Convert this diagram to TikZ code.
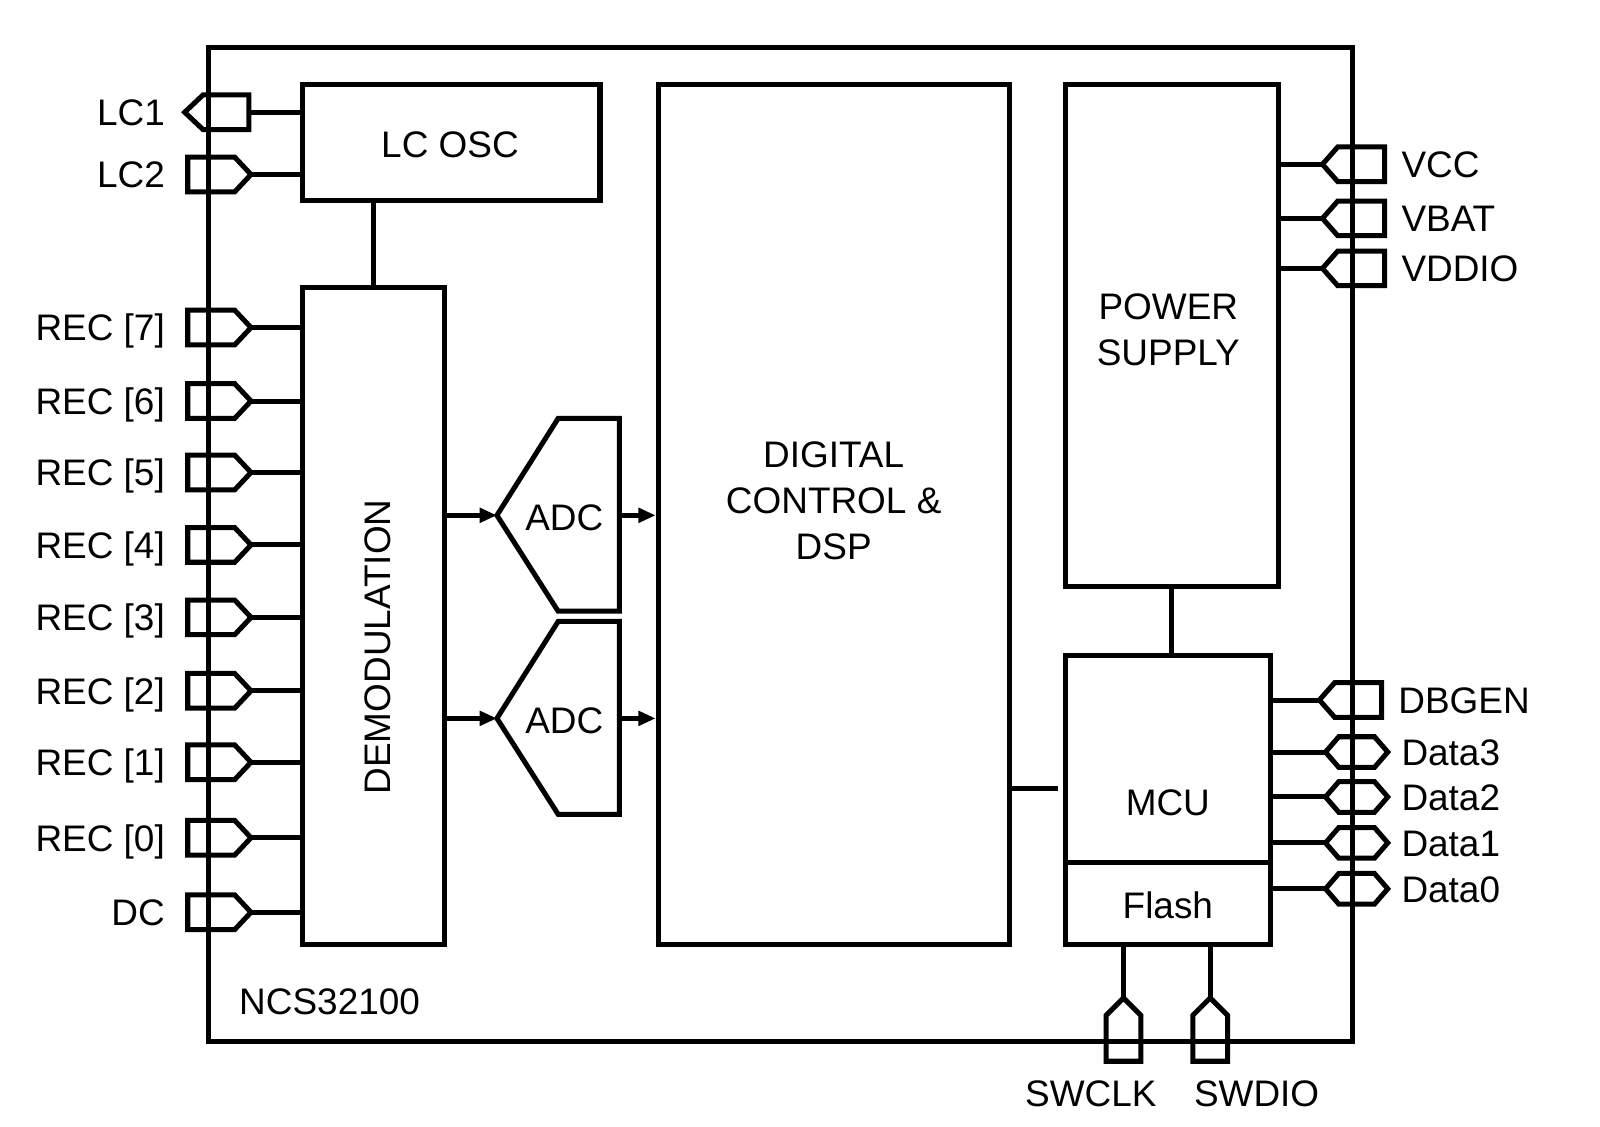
\documentclass[tikz,border=0pt]{standalone}
\usepackage{fontspec}
\setmainfont{Liberation Sans}
\usetikzlibrary{arrows.meta}

\begin{document}
\begin{tikzpicture}[
		x=0.1mm, y=-0.1mm,
		line width=1.4pt,
		>={Triangle[length=1.7mm,width=1.4mm]},
		font=\fontsize{10.3}{12.8}\selectfont,
		block/.style={draw, rectangle, inner sep=0pt},
		tag/.style={inner sep=0pt},
		pics/inpin/.style={code={
			\draw (-19,-17) -- (27,-17) -- (43,0) -- (27,17) -- (-19,17) -- cycle;
			\coordinate (-end) at (43,0);
			\node[tag, anchor=base east] (-label) at (-39,13) {#1};
		}},
		pics/outpin/.style={code={
			\draw (-22,0) -- (-4,-17) -- (41,-17) -- (41,17) -- (-4,17) -- cycle;
			\coordinate (-end) at (41,0);
			\node[tag, anchor=base east] (-label) at (-39,13) {#1};
		}},
		pics/supplypin/.style={code={
			\draw (-29,0) -- (-14,-17) -- (32,-17) -- (32,17) -- (-14,17) -- cycle;
			\coordinate (-end) at (-29,0);
			\node[tag, anchor=base west] (-label) at (46,13) {#1};
		}},
		pics/iopin/.style={code={
			\draw (-26,0) -- (-13,-15) -- (22,-15) -- (35,0) -- (22,15) -- (-13,15) -- cycle;
			\coordinate (-end) at (-26,0);
			\node[tag, anchor=base west] (-label) at (46,13) {#1};
		}},
		pics/swdpin/.style={code={
			\draw (0,-43) -- (17,-26) -- (17,19) -- (-17,19) -- (-17,-26) -- cycle;
			\coordinate (-end) at (0,-43);
		}}
	]
		\useasboundingbox (0,0) rectangle (1568,1103.5);

		% Chip outline
		\node[block, minimum width=112.1mm, minimum height=97.4mm] (chip) at (764.5,534) {};
		\node[tag, anchor=base west] (part) at (232,994) {NCS32100};

		% Blocks
		\node[block, minimum width=29.2mm, minimum height=11.3mm] (lcosc) at (442,139.5) {};
		\node[tag] (lcosctext) at (441,142) {LC OSC};
		\node[block, minimum width=14mm, minimum height=64.4mm] (demod) at (366,604) {};
		\node[tag, rotate=90] (demodtext) at (370,634) {DEMODULATION};
		\node[block, minimum width=34.4mm, minimum height=84.3mm] (dsp) at (817,504.5) {};
		\node[tag, align=center] (dsptext) at (817,491) {DIGITAL\\CONTROL \&\\DSP};
		\node[block, minimum width=20.9mm, minimum height=49.2mm] (power) at (1148.5,329) {};
		\node[tag, align=center] (powertext) at (1145,323) {POWER\\SUPPLY};
		\node[block, minimum width=20.1mm, minimum height=28.4mm] (mcu) at (1144.5,784) {};
		\node[tag] (mcutext) at (1144.5,787) {MCU};
		\node[block, minimum width=20.1mm, minimum height=8.1mm] (flash) at (1144.5,885.5) {};
		\node[tag] (flashtext) at (1144.5,887) {Flash};

		% ADCs
		\foreach \n/\y in {1/505, 2/704} {
			\coordinate (adc\n-in) at (487,\y);
			\coordinate (adc\n-out) at (607,\y);
			\draw (adc\n-in) -- ++(60,-95) -- ++(60,0) -- ++(0,189) -- ++(-60,0) -- cycle;
			\node[tag] (adc\n) at (553,\y+2) {ADC};
			\draw[->] (demod.east |- adc\n-in) -- (adc\n-in);
			\draw[->] (adc\n-out) -- (dsp.west |- adc\n-out);
		}

		% Internal links
		\draw (lcosc.south -| demod.north) -- (demod.north);
		\draw (power.south) -- (power.south |- mcu.north);
		\coordinate (bus) at (1000,773);
		\draw[shorten >=0.5mm] (dsp.east |- bus) -- (mcu.west |- bus);

		% Left pins
		\pic (lc1) at (203,110) {outpin=LC1};
		\pic (lc2) at (203,171) {inpin=LC2};
		\draw (lc1-end) -- (lc1-end -| lcosc.west);
		\draw (lc2-end) -- (lc2-end -| lcosc.west);
		\foreach \i/\y in {7/321, 6/393, 5/463, 4/534, 3/605, 2/677, 1/747, 0/821} {
			\pic (rec\i) at (203,\y) {inpin={REC [\i]}};
			\draw (rec\i-end) -- (rec\i-end -| demod.west);
		}
		\pic (dc) at (203,894) {inpin=DC};
		\draw (dc-end) -- (dc-end -| demod.west);

		% Right pins
		\foreach \p/\t/\y in {vcc/VCC/161, vbat/VBAT/214, vddio/VDDIO/263} {
			\pic (\p) at (1325,\y) {supplypin=\t};
			\draw (power.east |- \p-end) -- (\p-end);
		}
		\pic (dbgen) at (1322,686) {supplypin=DBGEN};
		\draw (mcu.east |- dbgen-end) -- (dbgen-end);
		\foreach \p/\t/\y in {data3/Data3/737, data2/Data2/781, data1/Data1/826, data0/Data0/871} {
			\pic (\p) at (1325,\y) {iopin=\t};
			\draw (mcu.east |- \p-end) -- (\p-end);
		}

		% Bottom pins
		\pic (swclk) at (1101,1021) {swdpin};
		\pic (swdio) at (1186,1021) {swdpin};
		\draw (flash.south -| swclk-end) -- (swclk-end);
		\draw (flash.south -| swdio-end) -- (swdio-end);
		\node[tag, anchor=base] (swclklabel) at (1069,1084) {SWCLK};
		\node[tag, anchor=base] (swdiolabel) at (1231.5,1084) {SWDIO};
\end{tikzpicture}
\end{document}
